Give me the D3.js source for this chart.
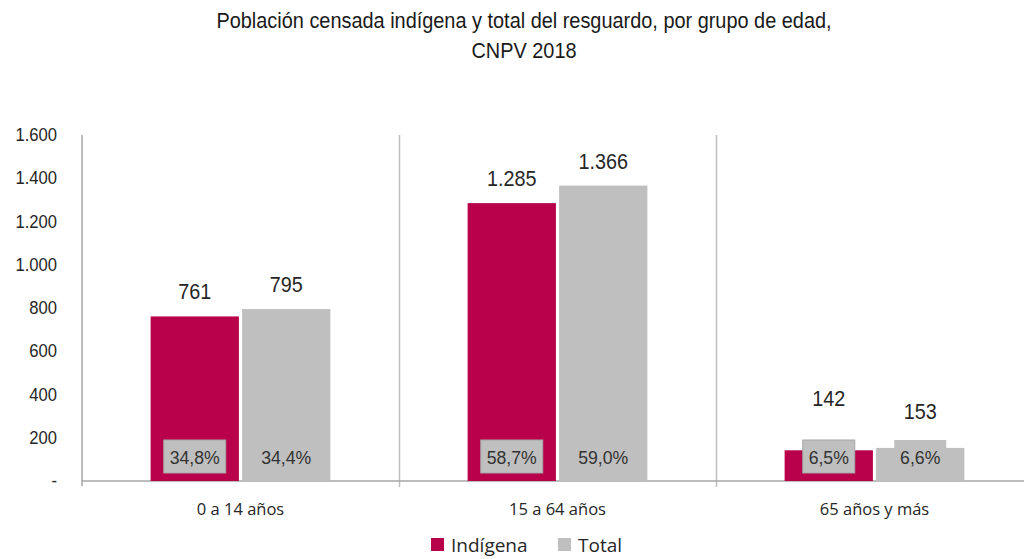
<!DOCTYPE html>
<html>
<head>
<meta charset="utf-8">
<script src="https://cdn.jsdelivr.net/npm/d3@7"></script>
<style>
  html, body { margin: 0; padding: 0; background: #fff; }
  svg { display: block; }
  .narrow { font-family: "Liberation Sans", Arial, sans-serif; }
  .cal { font-family: "Open Sans", Lato, "Noto Sans", sans-serif; }
</style>
</head>
<body>
<svg id="chart" width="1024" height="559"></svg>
<script>
const categories = ["0 a 14 años", "15 a 64 años", "65 años y más"];
const seriesNames = ["Indígena", "Total"];
const indigena = [761, 1285, 142];
const total = [795, 1366, 153];
const indigenaPct = ["34,8%", "58,7%", "6,5%"];
const totalPct = ["34,4%", "59,0%", "6,6%"];
const yTicks = [0, 200, 400, 600, 800, 1000, 1200, 1400, 1600];
const yTickLabels = ["-", "200", "400", "600", "800", "1.000", "1.200", "1.400", "1.600"];
const colors = ["#b8004b", "#bfbfbf"];
const titleLines = ["Población censada indígena y total del resguardo, por grupo de edad,", "CNPV 2018"];

const fmt = v => d3.format(",")(v).replace(/,/g, ".");

const svg = d3.select("#chart");
const W = 1024, H = 559;
const plotLeft = 82, plotTop = 135, plotBottom = 481;
const bandW = 317;

const x0 = d3.scaleBand().domain(categories).range([plotLeft, plotLeft + bandW * categories.length]).paddingInner(0).paddingOuter(0);
const x1 = d3.scaleBand().domain(seriesNames).range([0, bandW]).paddingInner(0.035).paddingOuter(0.75);
const y = d3.scaleLinear().domain([0, 1600]).range([plotBottom, plotTop]);

// place condensed text: position via transform with horizontal squeeze
function squeeze(sel, sx, fx, fy) {
  sel.attr("transform", (d, i, n) => `translate(${fx(d, i, n)},${fy(d, i, n)}) scale(${sx},1)`)
     .attr("x", 0).attr("y", 0);
}

// Title
const tt = svg.append("g").selectAll("text").data(titleLines).join("text")
  .attr("class", "narrow")
  .attr("text-anchor", "middle")
  .attr("font-size", 22)
  .attr("fill", "#1a1a1a")
  .text(d => d);
squeeze(tt, 0.905, () => 524, (d, i) => 28 + i * 30);

// Category separators
const seps = categories.slice(1);
svg.append("g").selectAll("line").data(seps).join("line")
  .attr("x1", d => x0(d) + 0.5).attr("x2", d => x0(d) + 0.5)
  .attr("y1", plotTop).attr("y2", plotBottom + 6)
  .attr("stroke", "#bfbfbf").attr("stroke-width", 1.5);

// Y axis
const yAxis = d3.axisLeft(y).tickValues(yTicks).tickFormat((d, i) => yTickLabels[i]).tickSize(0).tickPadding(25);
const ya = svg.append("g").attr("transform", `translate(${plotLeft},0)`).call(yAxis);
ya.select(".domain").attr("stroke", "#a6a6a6").attr("stroke-width", 1.5).attr("d", `M0,${plotTop}V${plotBottom}`);
ya.selectAll("text").attr("class", "narrow").attr("font-size", 17.5).attr("fill", "#262626").attr("font-family", null)
  .attr("transform", "scale(0.95,1)").attr("x", -25 / 0.95);

// X axis
const xAxis = d3.axisBottom(x0).tickSize(0).tickPadding(22);
const xa = svg.append("g").attr("transform", `translate(0,${plotBottom})`).call(xAxis);
xa.select(".domain").attr("stroke", "#a6a6a6").attr("stroke-width", 1.5).attr("d", `M${plotLeft},5V0H${W + 20}`);
xa.selectAll("text").attr("class", "cal").attr("font-size", 16.5).attr("fill", "#262626").attr("font-family", null);

// Bars
const data = categories.map((c, i) => ({
  cat: c,
  vals: [
    { s: seriesNames[0], v: indigena[i], pct: indigenaPct[i], ci: 0, gi: i },
    { s: seriesNames[1], v: total[i], pct: totalPct[i], ci: 1, gi: i }
  ]
}));

const groups = svg.append("g").selectAll("g").data(data).join("g")
  .attr("transform", d => `translate(${x0(d.cat)},0)`);

groups.selectAll("rect.bar").data(d => d.vals).join("rect")
  .attr("class", "bar")
  .attr("x", d => x1(d.s)).attr("width", x1.bandwidth())
  .attr("y", d => y(d.v)).attr("height", d => y(0) - y(d.v))
  .attr("fill", d => colors[d.ci]);

// Value labels above bars
const vals = groups.selectAll("text.val").data(d => d.vals).join("text")
  .attr("class", "val narrow")
  .attr("text-anchor", "middle")
  .attr("font-size", 22)
  .attr("fill", "#262626")
  .text(d => fmt(d.v));
squeeze(vals, 0.9,
  d => x1(d.s) + x1.bandwidth() / 2,
  d => d.gi === 2 ? (d.ci === 0 ? 406 : 419) : y(d.v) - 17);

// Percentage labels with boxes
const boxH = 33, boxTop = 440;
groups.each(function(g) {
  const G = d3.select(this);
  g.vals.forEach(d => {
    const cx = x1(d.s) + x1.bandwidth() / 2;
    const bw = d.gi === 2 ? 52 : 62;
    G.append("rect")
      .attr("x", cx - bw / 2).attr("y", boxTop)
      .attr("width", bw).attr("height", boxH)
      .attr("fill", "#bfbfbf")
      .attr("stroke", d.ci === 0 ? "#a6a6a6" : "none")
      .attr("stroke-width", 1);
    G.append("text")
      .attr("class", "narrow")
      .attr("transform", `translate(${cx},${boxTop + boxH / 2 + 7}) scale(0.93,1)`)
      .attr("text-anchor", "middle")
      .attr("font-size", 19)
      .attr("fill", "#333")
      .text(d.pct);
  });
});

// Legend
const legend = svg.append("g").attr("class", "cal");
const legendItems = [
  { name: seriesNames[0], color: colors[0], x: 431 },
  { name: seriesNames[1], color: colors[1], x: 558 }
];
const li = legend.selectAll("g").data(legendItems).join("g")
  .attr("transform", d => `translate(${d.x},538)`);
li.append("rect").attr("width", 13).attr("height", 13).attr("fill", d => d.color);
li.append("text").attr("x", 20).attr("y", 14).attr("font-size", 19).attr("fill", "#262626").text(d => d.name);
</script>
</body>
</html>
